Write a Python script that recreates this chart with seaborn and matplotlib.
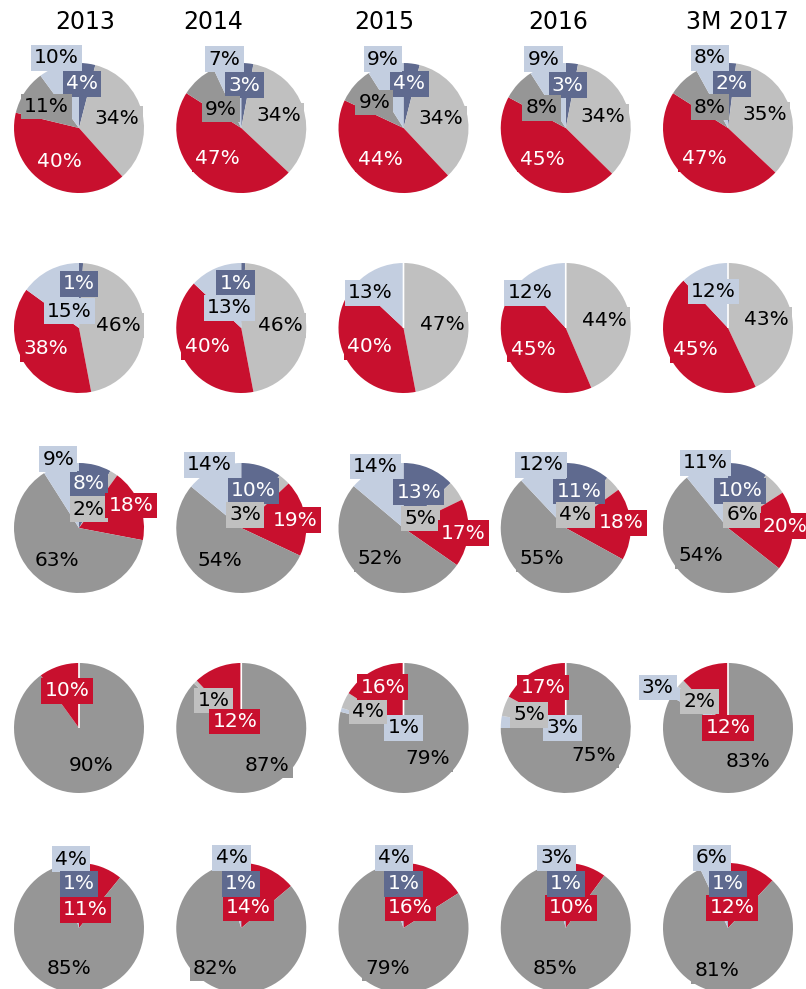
import numpy as np
import matplotlib
matplotlib.use('Agg')
import matplotlib.pyplot as plt
import seaborn as sns

sns.set_theme(style='white')
plt.rcParams['font.family'] = ['DejaVu Sans']

# column titles
years = ['2013', '2014', '2015', '2016', '3M 2017']

# slice colours per category
palette = {
    'dark_blue': '#5f6a8f',
    'light_gray': '#c0c0c0',
    'red': '#c8102e',
    'mid_gray': '#969696',
    'light_blue': '#c3cee0',
}
white_text = ['dark_blue', 'red']

# each row = one set of pies, values listed clockwise from 12 o'clock
# rows of the value tables = categories, columns = years (nan = not present)
row1_order = ['dark_blue', 'light_gray', 'red', 'mid_gray', 'light_blue']
row1_values = [[4, 3, 4, 3, 2],
               [34, 34, 34, 34, 35],
               [40, 47, 44, 45, 47],
               [11, 9, 9, 8, 8],
               [10, 7, 9, 9, 8]]

row2_order = ['dark_blue', 'light_gray', 'red', 'light_blue']
row2_values = [[1, 1, 0, 0, 0],
               [46, 46, 47, 44, 43],
               [38, 40, 40, 45, 45],
               [15, 13, 13, 12, 12]]

row3_order = ['dark_blue', 'light_gray', 'red', 'mid_gray', 'light_blue']
row3_values = [[8, 10, 13, 11, 10],
               [2, 3, 5, 4, 6],
               [18, 19, 17, 18, 20],
               [63, 54, 52, 55, 54],
               [9, 14, 14, 12, 11]]

row4_order = ['dark_blue', 'mid_gray', 'light_blue', 'light_gray', 'red']
row4_values = [[0, 0, 0, 0, 0],
               [90, 87, 79, 75, 83],
               [np.nan, np.nan, 1, 3, 3],
               [np.nan, 1, 4, 5, 2],
               [10, 12, 16, 17, 12]]

row5_order = ['red', 'mid_gray', 'light_blue', 'dark_blue']
row5_values = [[11, 14, 16, 10, 12],
               [85, 82, 79, 85, 81],
               [4, 4, 4, 3, 6],
               [1, 1, 1, 1, 1]]

rows = [(row1_order, row1_values), (row2_order, row2_values),
        (row3_order, row3_values), (row4_order, row4_values),
        (row5_order, row5_values)]

# label placement where Excel moved a label away from the default spot
# (row, column, category) -> (x, y) in pie-radius units
label_pos = {}
for j, p in enumerate([(-0.35, 1.08), (-0.26, 1.06), (-0.32, 1.06), (-0.34, 1.06), (-0.28, 1.08)]):
    label_pos[(0, j, 'light_blue')] = p
for j, p in enumerate([(0.05, 0.68), (0.05, 0.66), (0.09, 0.68), (0.03, 0.66), (0.06, 0.68)]):
    label_pos[(0, j, 'dark_blue')] = p
label_pos[(0, 1, 'mid_gray')] = (-0.31, 0.29)
label_pos[(0, 3, 'mid_gray')] = (-0.37, 0.31)
label_pos[(0, 4, 'mid_gray')] = (-0.28, 0.32)

label_pos[(1, 0, 'light_blue')] = (-0.15, 0.26)
label_pos[(1, 0, 'dark_blue')] = (0.0, 0.68)
label_pos[(1, 1, 'light_blue')] = (-0.18, 0.31)
label_pos[(1, 1, 'dark_blue')] = (-0.09, 0.69)
label_pos[(1, 2, 'light_blue')] = (-0.51, 0.54)
label_pos[(1, 3, 'light_blue')] = (-0.55, 0.54)

for j, p in enumerate([(-0.32, 1.06), (-0.49, 0.97), (-0.43, 0.95), (-0.38, 0.97), (-0.35, 1.0)]):
    label_pos[(2, j, 'light_blue')] = p
for j, p in enumerate([(0.15, 0.29), (0.06, 0.2), (0.26, 0.15), (0.15, 0.2), (0.22, 0.2)]):
    label_pos[(2, j, 'light_gray')] = p
for j, p in enumerate([(0.8, 0.35), (0.83, 0.12), (0.92, -0.08), (0.86, 0.08), (0.88, 0.03)]):
    label_pos[(2, j, 'red')] = p
label_pos[(2, 0, 'dark_blue')] = (0.15, 0.68)

label_pos[(3, 1, 'red')] = (-0.1, 0.1)
label_pos[(3, 1, 'mid_gray')] = (0.4, -0.57)
label_pos[(3, 2, 'red')] = (-0.32, 0.63)
label_pos[(3, 2, 'light_blue')] = (0.0, 0.0)
label_pos[(3, 3, 'red')] = (-0.35, 0.62)
label_pos[(3, 3, 'light_blue')] = (-0.05, 0.0)
label_pos[(3, 4, 'light_blue')] = (-1.08, 0.62)
label_pos[(3, 4, 'red')] = (0.0, 0.0)

for j, p in enumerate([(-0.12, 1.06), (-0.15, 1.08), (-0.15, 1.08), (-0.14, 1.08), (-0.25, 1.08)]):
    label_pos[(4, j, 'light_blue')] = p
for j, p in enumerate([(0.1, 0.28), (0.11, 0.31), (0.11, 0.31), (0.08, 0.31), (0.06, 0.31)]):
    label_pos[(4, j, 'red')] = p
for j, p in enumerate([(-0.15, -0.62), (-0.4, -0.62), (-0.25, -0.62), (-0.17, -0.62), (-0.17, -0.66)]):
    label_pos[(4, j, 'mid_gray')] = p
for j in range(5):
    label_pos[(4, j, 'dark_blue')] = (0.0, 0.68)

# title nudges (radius units) to follow the uneven headings of the original
title_shift = [0.09, -0.43, -0.29, -0.12, 0.15]

W, H = 806, 989
fig = plt.figure(figsize=(W / 100, H / 100), dpi=100)
gs = fig.add_gridspec(5, 5, left=14 / W, right=793 / W, top=1 - 63 / H, bottom=1 - 993 / H,
                      wspace=0.248, hspace=0.538)

for i, (order, values) in enumerate(rows):
    vals = np.array(values, dtype=float)
    for j in range(len(years)):
        ax = fig.add_subplot(gs[i, j])
        col = vals[:, j]
        keep = ~np.isnan(col)
        cats = [c for c, k in zip(order, keep) if k]
        v = col[keep]
        wedges, _ = ax.pie(v, colors=[palette[c] for c in cats], startangle=90,
                           counterclock=False, radius=1,
                           wedgeprops=dict(linewidth=0))
        # zero slices show up as a thin white spoke
        for w, x in zip(wedges, v):
            if x == 0:
                w.set_edgecolor('white')
                w.set_linewidth(1.2)
                w.set_zorder(3)
        ax.set_xlim(-1, 1)
        ax.set_ylim(-1, 1)
        ax.set_aspect('equal')
        ax.axis('off')

        total = v.sum()
        start = 0.0
        for c, x in zip(cats, v):
            mid = (start + x / 2) / total * 2 * np.pi
            start += x
            if x == 0:
                continue
            pos = label_pos.get((i, j, c), (0.6 * np.sin(mid), 0.6 * np.cos(mid)))
            ax.text(pos[0], pos[1], f'{int(x)}%', ha='center', va='center', fontsize=14.5,
                    color='white' if c in white_text else 'black', zorder=5, clip_on=False,
                    bbox=dict(boxstyle='square,pad=0.16', facecolor=palette[c], edgecolor='none'))

        if i == 0:
            ax.text(title_shift[j], 1.63, years[j], ha='center', va='center',
                    fontsize=17, color='black', clip_on=False)

fig.savefig('out.png', dpi=100)
